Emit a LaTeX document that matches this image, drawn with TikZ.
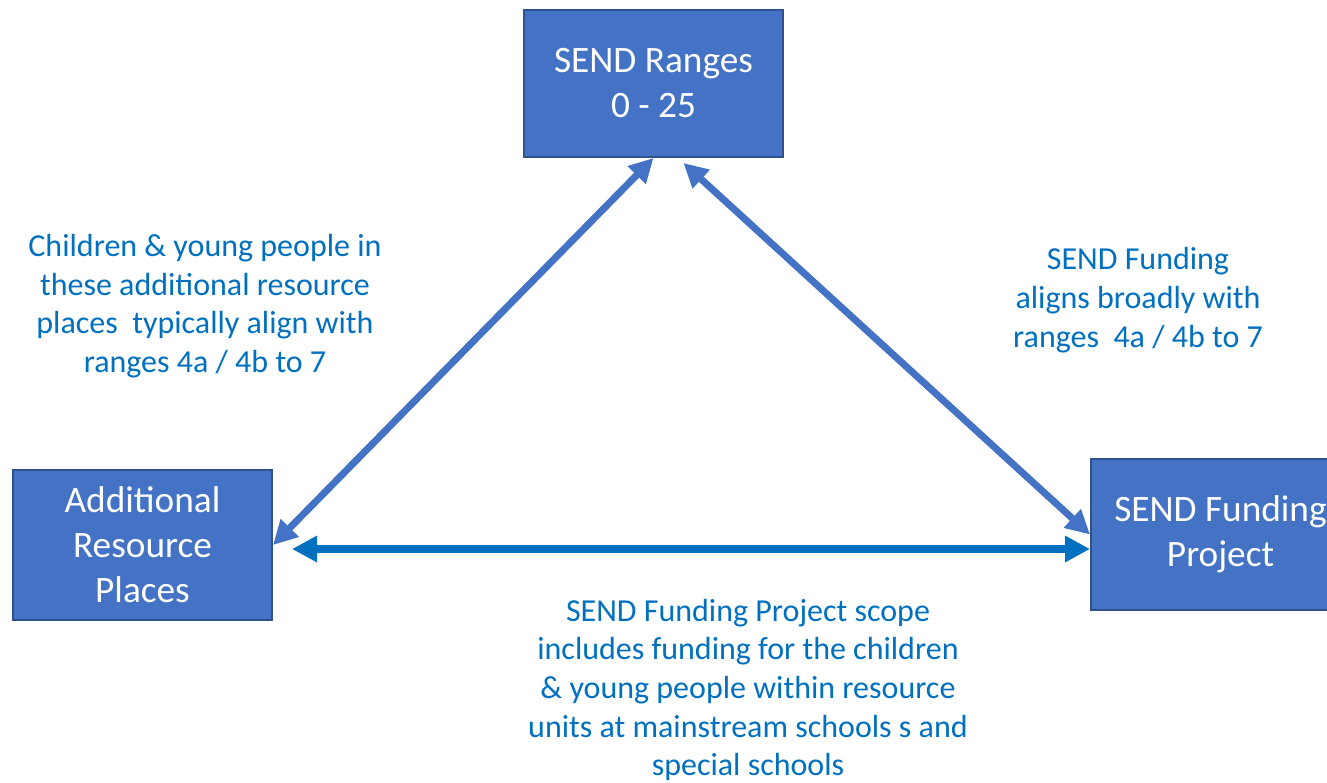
\documentclass[tikz,border=0pt]{standalone}
\usepackage{fontspec}
\setmainfont{Carlito}
\usetikzlibrary{arrows.meta, calc, positioning}

\definecolor{boxfill}{HTML}{4472C4}
\definecolor{boxline}{HTML}{2F528F}
\definecolor{textblue}{HTML}{0070C0}

\tikzset{
	rangebox/.style={draw=boxline, fill=boxfill, line width=2pt, minimum width=259pt, text=white, align=center, font=\fontsize{37.3}{45}\selectfont},
	note/.style={text=textblue, align=center, font=\fontsize{32}{38.7}\selectfont},
	link/.style={draw=boxfill, line width=7pt, {Triangle[length=24pt,width=24pt]}-{Triangle[length=24pt,width=24pt]}},
	scopelink/.style={draw=textblue, line width=8pt, {Triangle[length=25pt,width=25pt]}-{Triangle[length=25pt,width=25pt]}}
}

\begin{document}
\begin{tikzpicture}[x=1pt, y=-1pt]
	\useasboundingbox (0,0) rectangle (1327,782);
	\clip (0,0) rectangle (1327,782);
	\fill[white] (0,0) rectangle (1327,782);

	% boxes
	\node[rangebox, minimum height=147pt] (ranges) at (653.5,83.5) {SEND Ranges\\0 - 25};
	\node[rangebox, minimum height=150pt] (places) at (142.5,545) {Additional\\Resource\\Places};
	\node[rangebox, minimum height=151pt] (project) at (1220.5,534.5) {SEND Funding\\Project};

	% notes
	\node[note] (placesnote) at (205,306) {Children \& young people in\\these additional resource\\places\ \ typically align with\\ranges 4a / 4b to 7};
	\node[note] (fundingnote) at (1138,300) {SEND Funding\\aligns broadly with\\ranges\ \ 4a / 4b to 7};
	\node[note] (scopenote) at (748,690) {SEND Funding Project scope\\includes funding for the children\\\& young people within resource\\units at mainstream schools s and\\special schools};

	% arrows
	\draw[link] (places.east) -- (ranges.south);
	\draw[link] ([xshift=30pt,yshift=-5pt]ranges.south) -- (project.west);
	\coordinate (scopestart) at ([xshift=19pt,yshift=-4pt]places.east);
	\draw[scopelink] (scopestart) -- (project.west |- scopestart);
\end{tikzpicture}
\end{document}
